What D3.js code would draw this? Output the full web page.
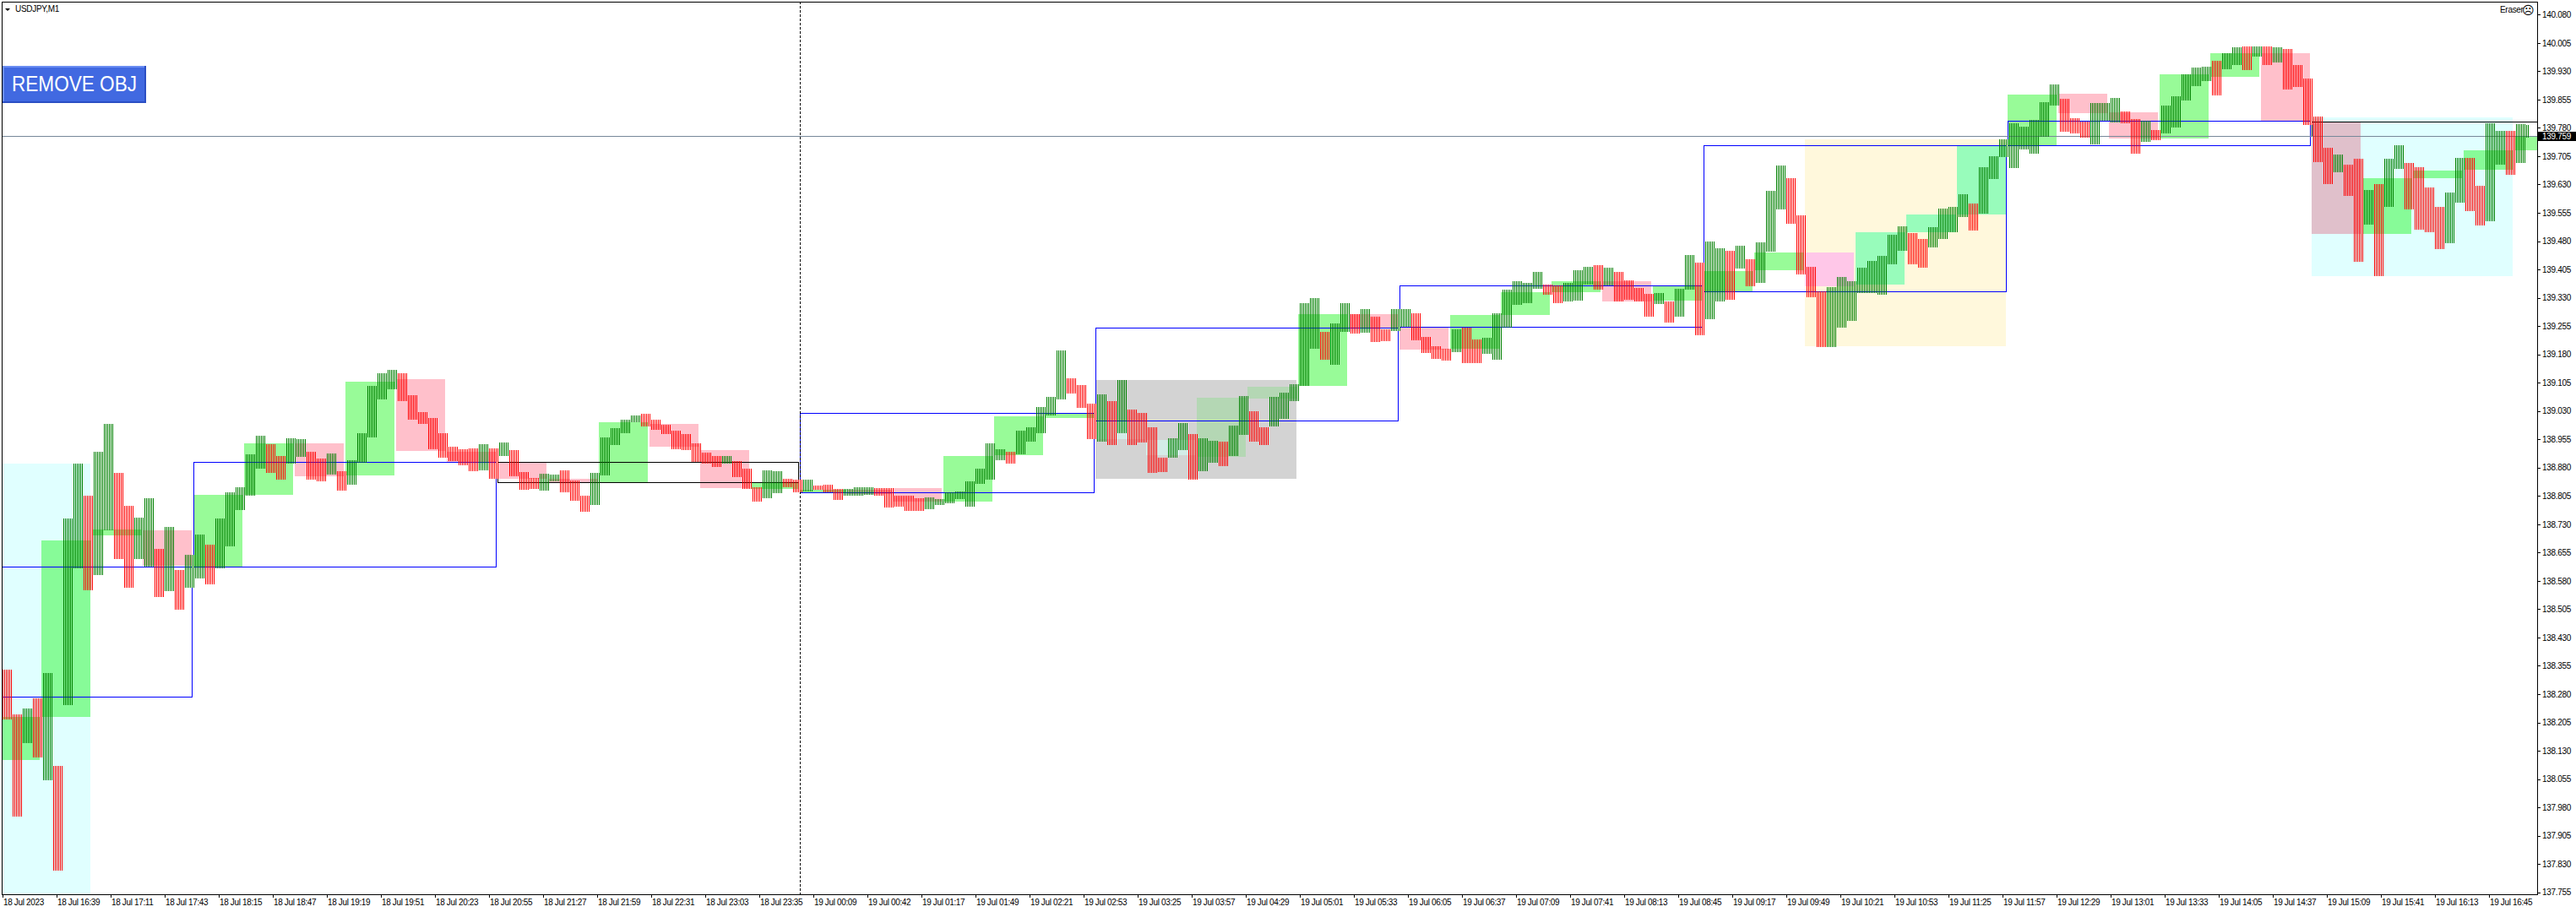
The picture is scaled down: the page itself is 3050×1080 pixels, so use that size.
<!DOCTYPE html>
<html><head><meta charset="utf-8">
<script src="https://cdn.jsdelivr.net/npm/d3@7"></script>
<style>
html,body{margin:0;padding:0;background:#fff;overflow:hidden;}
svg{display:block;}
text{font-family:"Liberation Sans",Arial,sans-serif;}
</style>
</head><body>
<svg id="chart" width="3050" height="1080"></svg>
<script>
// ---------------- DATA ----------------
const symbolLabel = "USDJPY,M1";
const buttonLabel = "REMOVE OBJ";
const eraserLabel = "Eraser";
const bidPrice = 139.759;
const lastBar = 1495;          // index of the last M1 bar on screen
const barsPerGroup = 6;        // each high/low pair below summarises 6 one-minute bars

const groupHigh = [138.345,138.226,138.242,138.269,138.336,138.090,138.745,138.890,138.805,138.922,
138.996,138.866,138.779,138.747,138.799,138.665,138.723,138.609,138.649,138.703,
138.676,138.745,138.814,138.828,138.915,138.964,138.942,138.911,138.958,138.955,
138.922,138.904,138.917,138.870,138.899,138.971,139.096,139.130,139.139,139.130,
139.072,139.027,139.011,138.971,138.935,138.928,138.931,138.942,138.931,138.946,
138.926,138.868,138.852,138.864,138.861,138.873,138.846,138.805,138.866,138.960,
138.984,139.007,139.018,139.022,139.007,138.993,138.978,138.969,138.944,138.919,
138.911,138.911,138.897,138.877,138.828,138.873,138.870,138.850,138.848,138.848,
138.832,138.834,138.823,138.823,138.828,138.828,138.826,138.826,138.805,138.805,
138.799,138.801,138.797,138.814,138.817,138.843,138.877,138.944,138.928,138.922,
138.978,138.987,139.040,139.067,139.190,139.116,139.099,139.049,139.074,139.056,
139.112,139.034,139.025,138.987,138.906,138.958,138.998,138.969,138.958,138.951,
138.949,138.991,139.069,139.029,138.987,139.067,139.078,139.101,139.316,139.329,
139.239,139.262,139.316,139.286,139.300,139.280,139.246,139.300,139.300,139.289,
139.226,139.201,139.195,139.246,139.251,139.219,139.224,139.289,139.351,139.374,
139.369,139.398,139.365,139.362,139.369,139.403,139.412,139.416,139.409,139.398,
139.376,139.356,139.340,139.342,139.320,139.353,139.443,139.423,139.479,139.461,
139.454,139.468,139.432,139.477,139.613,139.680,139.647,139.548,139.412,139.347,
139.358,139.385,139.374,139.409,139.427,139.441,139.497,139.519,139.501,139.486,
139.517,139.566,139.570,139.604,139.579,139.676,139.705,139.749,139.792,139.783,
139.801,139.848,139.895,139.857,139.805,139.796,139.846,139.846,139.859,139.823,
139.803,139.799,139.774,139.839,139.864,139.922,139.940,139.942,139.958,139.978,
139.993,139.996,139.996,139.996,139.993,139.989,139.946,139.911,139.810,139.727,
139.709,139.682,139.698,139.615,139.631,139.698,139.734,139.687,139.676,139.622,
139.570,139.609,139.700,139.700,139.626,139.792,139.772,139.772,139.790,139.788];

const groupLow = [138.213,137.955,138.150,138.112,138.052,137.812,138.251,138.613,138.555,138.595,
138.714,138.638,138.562,138.638,138.618,138.537,138.553,138.503,138.562,138.586,
138.571,138.613,138.671,138.767,138.805,138.877,138.866,138.848,138.890,138.908,
138.848,138.843,138.861,138.819,138.834,138.893,138.960,139.060,139.087,139.056,
139.007,138.996,138.928,138.906,138.897,138.886,138.870,138.873,138.850,138.911,
138.857,138.821,138.823,138.819,138.843,138.814,138.792,138.763,138.781,138.859,
138.940,138.971,139.000,138.989,138.980,138.969,138.928,138.926,138.895,138.890,
138.881,138.890,138.855,138.823,138.790,138.799,138.812,138.828,138.814,138.817,
138.821,138.814,138.794,138.805,138.805,138.808,138.805,138.774,138.776,138.765,
138.765,138.770,138.781,138.785,138.797,138.776,138.837,138.848,138.899,138.890,
138.915,138.949,138.971,139.018,139.060,139.076,139.038,138.955,138.949,138.940,
138.971,138.940,138.946,138.866,138.868,138.906,138.926,138.848,138.870,138.893,
138.884,138.911,138.966,138.949,138.940,138.989,139.009,139.056,139.096,139.195,
139.166,139.152,139.239,139.235,139.237,139.213,139.215,139.242,139.253,139.217,
139.183,139.168,139.163,139.186,139.157,139.157,139.181,139.166,139.251,139.311,
139.316,139.353,139.338,139.316,139.320,139.322,139.365,139.351,139.362,139.320,
139.324,139.320,139.280,139.313,139.264,139.280,139.351,139.230,139.273,139.320,
139.324,139.407,139.360,139.369,139.452,139.564,139.526,139.392,139.331,139.199,
139.199,139.251,139.268,139.342,139.342,139.338,139.418,139.454,139.418,139.409,
139.463,139.486,139.503,139.544,139.508,139.553,139.644,139.703,139.673,139.723,
139.711,139.756,139.839,139.770,139.765,139.754,139.736,139.799,139.794,139.792,
139.711,139.743,139.747,139.765,139.781,139.852,139.890,139.904,139.866,139.935,
139.946,139.933,139.969,139.946,139.953,139.881,139.888,139.787,139.689,139.631,
139.662,139.600,139.425,139.524,139.387,139.570,139.671,139.564,139.510,139.503,
139.459,139.474,139.582,139.559,139.521,139.533,139.682,139.655,139.687,139.754];

// 30-minute candle bodies (bar index range, open, close)
const m30Start = [0,23,53,83,113,143,173,203,233,263,293,323,353,383,413,443,472,500,527,557,587,617,647,677,707,737,767,797,827,857,887,917,947,977,1007,1037,1067,1097,1127,1157,1187,1217,1247,1277,1307,1337,1367,1397,1427,1457,1487];
const m30End   = [22,52,82,112,142,172,202,232,262,292,322,352,382,412,442,471,499,526,556,586,616,646,676,706,736,766,796,826,856,886,916,946,976,1006,1036,1066,1096,1126,1156,1186,1216,1246,1276,1306,1336,1366,1396,1426,1456,1486,1516];
const m30Open  = [138.105,138.219,138.700,138.714,138.618,138.808,138.944,138.859,139.114,138.922,138.895,138.850,138.839,138.996,138.926,138.823,138.814,138.821,138.826,138.790,138.913,139.011,139.004,138.953,138.908,139.063,139.096,139.286,139.253,139.195,139.284,139.345,139.374,139.322,139.347,139.403,139.450,139.365,139.503,139.550,139.734,139.870,139.821,139.752,139.915,139.978,139.796,139.499,139.647,139.669,139.720];
const m30Close = [138.219,138.687,138.716,138.620,138.808,138.944,138.857,139.107,138.924,138.895,138.850,138.839,139.000,138.935,138.826,138.841,138.821,138.810,138.790,138.911,139.016,139.025,138.955,138.913,139.065,139.094,139.286,139.251,139.192,139.284,139.345,139.374,139.320,139.360,139.400,139.450,139.360,139.503,139.550,139.734,139.868,139.819,139.752,139.922,139.978,139.799,139.499,139.647,139.667,139.720,139.758];

// 3-hour candle bodies (outlined)
const h3Start = [-70,113,293,472,647,827,1007,1187,1367];
const h3End   = [112,292,471,646,826,1006,1186,1366,1546];
const h3Open  = [138.273,138.618,138.895,138.814,139.004,139.253,139.347,139.734,139.796];
const h3Close = [138.618,138.895,138.841,139.025,139.251,139.362,139.734,139.799,139.759];

// 2-hour session range boxes
const sessStart = [-60,647,1067,1367];
const sessEnd   = [52,766,1186,1486];
const sessHigh  = [138.890,139.112,139.749,139.808];
const sessLow   = [137.700,138.850,139.201,139.387];
const sessColor = ["#E0FFFF","#D3D3D3","#FFF8DC","#E0FFFF"];

const priceTicks = [137.755,137.830,137.905,137.980,138.055,138.130,138.205,138.280,138.355,138.430,138.505,138.580,138.655,138.730,138.805,138.880,138.955,139.030,139.105,139.180,139.255,139.330,139.405,139.480,139.555,139.630,139.705,139.780,139.855,139.930,140.005,140.080];

const timeLabels = ["18 Jul 2023","18 Jul 16:39","18 Jul 17:11","18 Jul 17:43","18 Jul 18:15","18 Jul 18:47","18 Jul 19:19","18 Jul 19:51","18 Jul 20:23","18 Jul 20:55","18 Jul 21:27","18 Jul 21:59","18 Jul 22:31","18 Jul 23:03","18 Jul 23:35","19 Jul 00:09","19 Jul 00:42","19 Jul 01:17","19 Jul 01:49","19 Jul 02:21","19 Jul 02:53","19 Jul 03:25","19 Jul 03:57","19 Jul 04:29","19 Jul 05:01","19 Jul 05:33","19 Jul 06:05","19 Jul 06:37","19 Jul 07:09","19 Jul 07:41","19 Jul 08:13","19 Jul 08:45","19 Jul 09:17","19 Jul 09:49","19 Jul 10:21","19 Jul 10:53","19 Jul 11:25","19 Jul 11:57","19 Jul 12:29","19 Jul 13:01","19 Jul 13:33","19 Jul 14:05","19 Jul 14:37","19 Jul 15:09","19 Jul 15:41","19 Jul 16:13","19 Jul 16:45"];
const timeLabelStep = 32;   // bars between time labels
const daySeparatorBar = 472;

// ---------------- LAYOUT ----------------
const L = 2, R = 3004, T = 2, B = 1059;
const x = d3.scaleLinear().domain([0, 1500]).range([3, 3003]);
const y = d3.scaleLinear().domain([137.755, 140.080]).range([1056.7, 17.3]);
const fmt = d3.format(".3f");
const GREEN = "#98FB98", PINK = "#FFC0CB";
const BULL = "#008000", BEAR = "#FF0000";

function xorColor(a, b) {
  const A = parseInt(a.slice(1), 16), Bc = parseInt(b.slice(1), 16);
  const r = (A ^ Bc ^ 0xFFFFFF) & 0xFFFFFF;
  return "#" + r.toString(16).padStart(6, "0");
}

const svg = d3.select("#chart");
const defs = svg.append("defs");
defs.append("clipPath").attr("id", "plot").append("rect")
  .attr("x", L).attr("y", T).attr("width", R - L).attr("height", B - T);
[["barUp", BULL], ["barDn", BEAR]].forEach(([id, col]) => {
  defs.append("pattern").attr("id", id).attr("patternUnits", "userSpaceOnUse")
    .attr("width", 2).attr("height", 2)
    .append("rect").attr("x", 1).attr("y", 0).attr("width", 1).attr("height", 2).attr("fill", col);
});

svg.append("rect").attr("width", 3050).attr("height", 1080).attr("fill", "#fff");
const plot = svg.append("g").attr("clip-path", "url(#plot)");

// session boxes
const sess = sessStart.map((s, i) => ({
  x0: x(s), x1: x(sessEnd[i]), y0: y(sessHigh[i]), y1: y(sessLow[i]), c: sessColor[i]
}));
plot.append("g").selectAll("rect").data(sess).join("rect")
  .attr("x", d => d.x0).attr("y", d => d.y0)
  .attr("width", d => d.x1 - d.x0).attr("height", d => d.y1 - d.y0)
  .attr("fill", d => d.c).attr("shape-rendering", "crispEdges");

// 30-minute bodies (with MT4-style XOR blending where they overlap a session box)
const m30 = m30Start.map((s, i) => {
  const up = m30Close[i] >= m30Open[i];
  const yt = y(Math.max(m30Open[i], m30Close[i])), yb = y(Math.min(m30Open[i], m30Close[i]));
  return { x0: x(s), x1: x(m30End[i]), y0: yt, y1: Math.max(yb, yt + 1), c: up ? GREEN : PINK };
});
const gM = plot.append("g").attr("shape-rendering", "crispEdges");
m30.forEach(m => {
  gM.append("rect").attr("x", m.x0).attr("y", m.y0)
    .attr("width", m.x1 - m.x0).attr("height", m.y1 - m.y0).attr("fill", m.c);
  sess.forEach(s => {
    const ix0 = Math.max(m.x0, s.x0), ix1 = Math.min(m.x1, s.x1);
    const iy0 = Math.max(m.y0, s.y0), iy1 = Math.min(m.y1, s.y1);
    if (ix1 > ix0 && iy1 > iy0) {
      gM.append("rect").attr("x", ix0).attr("y", iy0)
        .attr("width", ix1 - ix0).attr("height", iy1 - iy0).attr("fill", xorColor(m.c, s.c));
    }
  });
});

// 3-hour outlines
const gH = plot.append("g").attr("fill", "none").attr("stroke-width", 1);
h3Start.forEach((s, i) => {
  const up = h3Close[i] >= h3Open[i];
  const x0 = Math.round(x(s)) + 0.5, x1 = Math.round(x(h3End[i])) + 0.5;
  const y0 = Math.round(y(Math.max(h3Open[i], h3Close[i]))) + 0.5;
  const y1 = Math.round(y(Math.min(h3Open[i], h3Close[i]))) + 0.5;
  gH.append("rect").attr("x", x0).attr("y", y0).attr("width", x1 - x0).attr("height", y1 - y0)
    .attr("stroke", up ? "#0000FF" : "#000000");
});

// bid line
const yBid = Math.round(y(bidPrice)) + 0.5;
plot.append("line").attr("x1", L).attr("x2", R).attr("y1", yBid).attr("y2", yBid)
  .attr("stroke", "#778899").attr("stroke-width", 1);

// day separator
const xSep = Math.round(x(daySeparatorBar)) + 0.5;
plot.append("line").attr("x1", xSep).attr("x2", xSep).attr("y1", T).attr("y2", B)
  .attr("stroke", "#000").attr("stroke-width", 1).attr("stroke-dasharray", "3,2");

// price bars (each group of 6 one-minute bars drawn as a striped high-low block)
const mids = groupHigh.map((h, i) => (h + groupLow[i]) / 2);
const groups = groupHigh.map((h, g) => {
  const first = g * barsPerGroup, last = Math.min(g * barsPerGroup + barsPerGroup - 1, lastBar);
  const up = g === 0 ? mids[1] > mids[0] : mids[g] >= mids[g - 1];
  return { x0: x(first), x1: x(last) + 1, y0: y(h), y1: y(groupLow[g]), up };
});
plot.append("g").attr("shape-rendering", "crispEdges").selectAll("rect").data(groups).join("rect")
  .attr("x", d => d.x0).attr("width", d => d.x1 - d.x0)
  .attr("y", d => Math.round(d.y0)).attr("height", d => Math.max(1, Math.round(d.y1) - Math.round(d.y0)))
  .attr("fill", d => d.up ? "url(#barUp)" : "url(#barDn)");

// ---------------- FRAME & AXES ----------------
const frame = svg.append("g").attr("stroke", "#000").attr("stroke-width", 1).attr("shape-rendering", "crispEdges");
frame.append("line").attr("x1", L).attr("x2", R + 1).attr("y1", T + 0.5).attr("y2", T + 0.5);
frame.append("line").attr("x1", L + 0.5).attr("x2", L + 0.5).attr("y1", T).attr("y2", B + 1);
frame.append("line").attr("x1", R + 0.5).attr("x2", R + 0.5).attr("y1", T).attr("y2", B + 1);
frame.append("line").attr("x1", L).attr("x2", R + 1).attr("y1", B + 0.5).attr("y2", B + 0.5);

// price axis
const gy = svg.append("g");
priceTicks.forEach(p => {
  const yy = Math.round(y(p)) + 0.5;
  gy.append("line").attr("x1", R).attr("x2", R + 4).attr("y1", yy).attr("y2", yy)
    .attr("stroke", "#000").attr("shape-rendering", "crispEdges");
  gy.append("text").attr("x", R + 6).attr("y", y(p) + 3.7).attr("font-size", 10)
    .attr("letter-spacing", "-0.3px").attr("fill", "#000").text(fmt(p));
});
// current price label
const yc = y(bidPrice);
svg.append("rect").attr("x", R + 1).attr("y", Math.round(yc) - 5).attr("width", 46).attr("height", 11).attr("fill", "#000");
svg.append("text").attr("x", R + 6).attr("y", yc + 3.7).attr("font-size", 10)
  .attr("letter-spacing", "-0.3px").attr("fill", "#fff").text(fmt(bidPrice));

// time axis
const gx = svg.append("g");
timeLabels.forEach((lab, k) => {
  const xx = Math.round(x(k * timeLabelStep)) + 0.5;
  gx.append("line").attr("x1", xx).attr("x2", xx).attr("y1", B).attr("y2", B + 4)
    .attr("stroke", "#000").attr("shape-rendering", "crispEdges");
  gx.append("text").attr("x", xx + 0.5).attr("y", B + 13).attr("font-size", 10)
    .attr("letter-spacing", "-0.35px").attr("fill", "#000").text(lab);
});

// ---------------- HEADER / OBJECTS ----------------
svg.append("path").attr("d", "M6,10 L12,10 L9,13 Z").attr("fill", "#000");
svg.append("text").attr("x", 18).attr("y", 14).attr("font-size", 10)
  .attr("letter-spacing", "-0.3px").attr("fill", "#000").text(symbolLabel);

const btn = svg.append("g");
btn.append("rect").attr("x", 3).attr("y", 78).attr("width", 170).attr("height", 44).attr("fill", "#4169E1");
btn.append("rect").attr("x", 3).attr("y", 78).attr("width", 170).attr("height", 2).attr("fill", "#6A8DF2");
btn.append("rect").attr("x", 3).attr("y", 78).attr("width", 2).attr("height", 44).attr("fill", "#6A8DF2");
btn.append("rect").attr("x", 3).attr("y", 120).attr("width", 170).attr("height", 2).attr("fill", "#2B4FC4");
btn.append("rect").attr("x", 171).attr("y", 78).attr("width", 2).attr("height", 44).attr("fill", "#2B4FC4");
btn.append("text").attr("x", 14).attr("y", 108).attr("font-size", 25)
  .attr("textLength", 148).attr("lengthAdjust", "spacingAndGlyphs")
  .attr("fill", "#fff").text(buttonLabel);

svg.append("text").attr("x", 2960).attr("y", 15).attr("font-size", 10)
  .attr("letter-spacing", "-0.3px").attr("fill", "#000").text(eraserLabel);
svg.append("text").attr("x", 2993.5).attr("y", 17).attr("font-size", 14)
  .attr("text-anchor", "middle").attr("font-family", "DejaVu Sans").attr("fill", "#000").text("\u2639");
</script>
</body></html>
